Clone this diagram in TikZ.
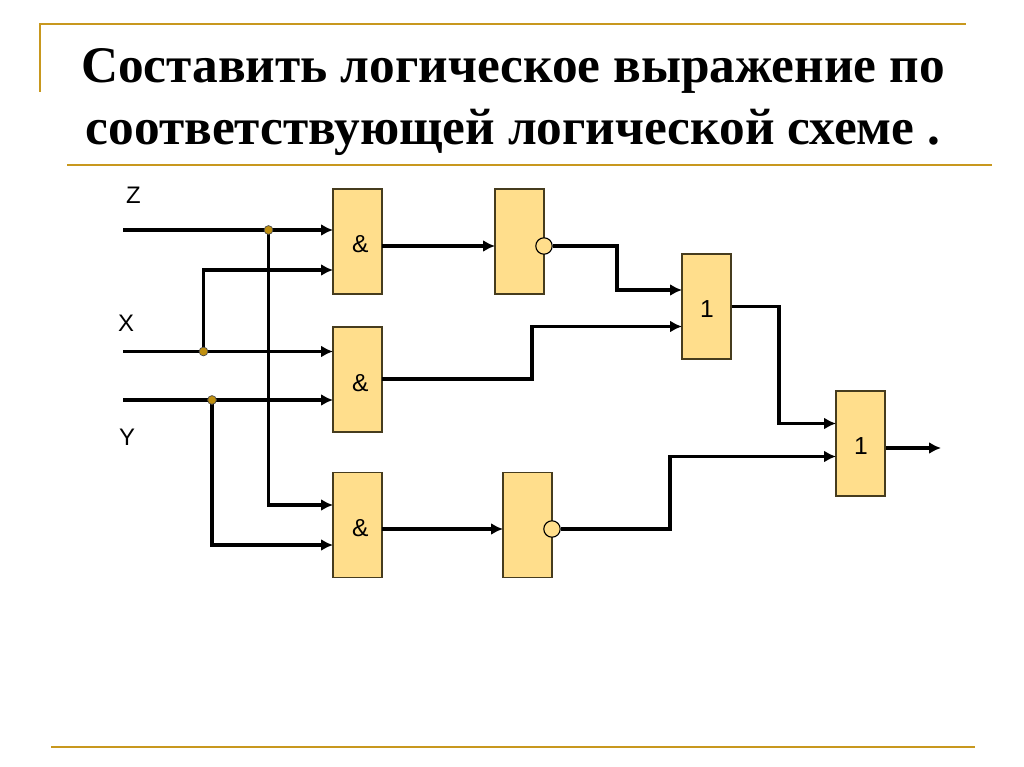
\documentclass[tikz,border=0pt]{standalone}
\usepackage{fontspec}
\setmainfont{Liberation Sans}
\newfontfamily\titlefont{Liberation Serif}
\usetikzlibrary{arrows.meta, positioning}
\definecolor{rulegold}{RGB}{200,152,30}
\definecolor{boxfill}{RGB}{255,222,140}
\definecolor{boxline}{RGB}{70,60,30}
\definecolor{dotfill}{RGB}{192,144,16}
\newcommand{\andsign}{\rule{0pt}{16.5pt}\hspace{4pt}\&}
\newcommand{\orsign}{\rule{0pt}{15.5pt}\hspace{0.7pt}1}

\begin{document}
\begin{tikzpicture}[x=0.025cm, y=-0.025cm, node distance=2cm, auto]
% node styles
\tikzstyle{block} = [rectangle, draw=boxline, fill=boxfill, line width=0.8pt, minimum width=1.225cm, minimum height=2.625cm, inner sep=0pt, font=\fontsize{17.5}{20}\selectfont]
\tikzstyle{line} = [draw, line width=2.3pt, -{Latex[length=8.5pt,width=8.5pt]}]
\tikzstyle{joint} = [circle, draw=black!70, fill=dotfill, line width=0.5pt, minimum size=0.22cm, inner sep=0pt]
\tikzstyle{bubble} = [circle, draw=black, fill=boxfill, line width=0.8pt, minimum size=0.41cm, inner sep=0pt]
\tikzstyle{rulebar} = [draw=rulegold, line width=1.6pt]
\tikzstyle{inlabel} = [font=\fontsize{17}{20}\selectfont]

\useasboundingbox (0,0) rectangle (1024,767);

% frame rules
\draw [rulebar] (40,92) -- (40,24) -- (966,24);
\draw [rulebar] (67,165) -- (992,165);
\draw [rulebar] (51,747) -- (975,747);

% title
\node [align=center, font=\titlefont\bfseries\fontsize{36.5}{44}\selectfont] (title) at (513,102) {Составить логическое выражение по\\соответствующей логической схеме .};

% blocks
\node [block] (and1) at (357.5,241.5) {\andsign};
\node [block, below of=and1, node distance=3.45cm] (and2) {\andsign};
\node [block, below of=and2, node distance=3.625cm] (and3) {\andsign};
\node [block, right of=and1, node distance=4.05cm] (not1) {};
\node [block, right of=and3, node distance=4.25cm] (not2) {};
\node [block] (or1) at (706.5,306.5) {\orsign};
\node [block] (or2) at (860.5,443.5) {\orsign};

% inversion circles
\node [bubble] (inv1) at (544,246) {};
\node [bubble] (inv2) at (552,529) {};

% inputs
\node [inlabel] (zlabel) at (133.5,195) {Z};
\node [inlabel] (xlabel) at (126,323) {X};
\node [inlabel] (ylabel) at (127,437) {Y};
\coordinate (zin) at (123,230);
\coordinate (xin) at (123,351.5);
\coordinate (yin) at (123,400);
\coordinate (zjoin) at (268.5,230);
\coordinate (xjoin) at (203.5,351.5);
\coordinate (yjoin) at (212,400);
\coordinate (and1a) at (333,230);
\coordinate (and1b) at (333,270);
\coordinate (and2a) at (333,351.5);
\coordinate (and2b) at (333,400);
\coordinate (and3a) at (333,505);
\coordinate (and3b) at (333,545);
\coordinate (and1out) at (382,246);
\coordinate (not1in) at (495,246);
\coordinate (and2out) at (382,379);
\coordinate (and3out) at (382,529);
\coordinate (not2in) at (503,529);
\coordinate (or1a) at (682,290);
\coordinate (or1b) at (682,326.5);
\coordinate (or2a) at (836,423.5);
\coordinate (or2b) at (836,456.5);
\coordinate (result) at (941,448);

% connect nodes
\path [line] (zin) -- (and1a);
\path [line] (xin) -- (and2a);
\path [line] (yin) -- (and2b);
\path [line] (xjoin) |- (and1b);
\path [line] (zjoin) |- (and3a);
\path [line] (yjoin) |- (and3b);
\path [line] (and1out) -- (not1in);
\path [line] (and3out) -- (not2in);
\path [line] (inv1.east) -- (617,246) |- (or1a);
\path [line] (and2out) -- (532,379) |- (or1b);
\path [line] (inv2.east) -- (670,529) |- (or2b);
\path [line] (or1.east) -- (779,306.5) |- (or2a);
\path [line] (or2.east |- result) -- (result);

% joints
\node [joint] (zdot) at (zjoin) {};
\node [joint] (xdot) at (xjoin) {};
\node [joint] (ydot) at (yjoin) {};
\end{tikzpicture}
\end{document}
